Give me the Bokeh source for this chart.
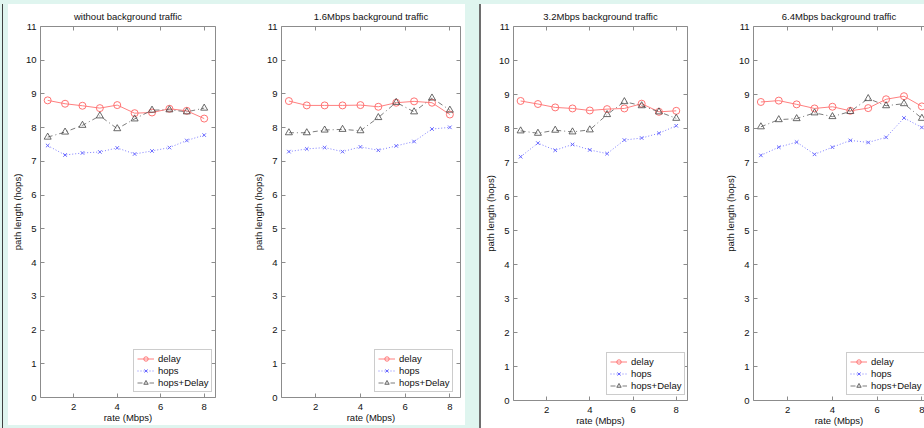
from bokeh.plotting import figure
from bokeh.models import LinearAxis, FixedTicker, Range1d, Legend, LegendItem, Div
from bokeh.layouts import row, column
from bokeh.embed import file_html
from bokeh.resources import INLINE

# ---- data ----
rates = [0.8, 1.6, 2.4, 3.2, 4.0, 4.8, 5.6, 6.4, 7.2, 8.0]
titles = ["without background traffic", "1.6Mbps background traffic",
          "3.2Mbps background traffic", "6.4Mbps background traffic"]
series_names = ["delay", "hops", "hops+Delay"]

delay_p1 = [8.81, 8.71, 8.65, 8.58, 8.67, 8.43, 8.45, 8.56, 8.50, 8.27]
hops_p1 = [7.47, 7.19, 7.25, 7.28, 7.40, 7.22, 7.31, 7.41, 7.62, 7.78]
hd_p1 = [7.72, 7.87, 8.07, 8.35, 7.97, 8.26, 8.52, 8.53, 8.47, 8.58]

delay_p2 = [8.79, 8.66, 8.66, 8.66, 8.67, 8.62, 8.74, 8.78, 8.74, 8.39]
hops_p2 = [7.29, 7.37, 7.41, 7.29, 7.43, 7.33, 7.46, 7.59, 7.96, 8.01]
hd_p2 = [7.85, 7.85, 7.93, 7.95, 7.91, 8.30, 8.75, 8.47, 8.88, 8.52]

delay_p3 = [8.81, 8.72, 8.62, 8.59, 8.53, 8.57, 8.59, 8.73, 8.49, 8.52]
hops_p3 = [7.17, 7.57, 7.36, 7.53, 7.37, 7.26, 7.66, 7.72, 7.86, 8.08]
hd_p3 = [7.93, 7.86, 7.95, 7.90, 7.96, 8.41, 8.79, 8.67, 8.49, 8.30]

delay_p4 = [8.78, 8.82, 8.71, 8.59, 8.64, 8.52, 8.60, 8.86, 8.95, 8.65]
hops_p4 = [7.21, 7.45, 7.60, 7.24, 7.45, 7.65, 7.59, 7.74, 8.31, 8.03]
hd_p4 = [8.05, 8.26, 8.29, 8.46, 8.35, 8.50, 8.88, 8.67, 8.73, 8.30]

y_ticks = list(range(12))
x_ticks = [2, 4, 6, 8]

# ---- style ----
FONT = "Liberation Sans"
AX = "#8c8c8c"
MINT = "#dff5ef"
X0 = 0.47
UNITS_PER_PX = 8.05 / 180.0


def style_axis(ax, ticks, labels=True, label_standoff=4, axis_label_standoff=0):
    ax.ticker = FixedTicker(ticks=ticks)
    ax.axis_line_color = AX
    ax.axis_line_width = 1
    ax.major_tick_line_color = AX
    ax.major_tick_in = 4
    ax.major_tick_out = 0
    ax.minor_tick_line_color = None
    ax.major_label_text_font = FONT
    ax.major_label_text_font_size = "9.5px"
    ax.major_label_text_color = "#111111"
    ax.major_label_standoff = label_standoff
    ax.axis_label_text_font = FONT
    ax.axis_label_text_font_size = "9.5px"
    ax.axis_label_text_font_style = "normal"
    ax.axis_label_text_color = "#111111"
    ax.axis_label_standoff = axis_label_standoff
    if not labels:
        ax.major_label_text_font_size = "0px"
        ax.major_label_text_alpha = 0
        ax.major_label_standoff = 0


def make_panel(title, delay, hops, hd, width, height, left, frame_w, top, bottom,
               right_axis=True):
    x_end = X0 + frame_w * UNITS_PER_PX
    right = width - left - frame_w
    p = figure(width=width, height=height, x_range=Range1d(X0, x_end), y_range=Range1d(0, 11),
               output_backend="svg", toolbar_location=None,
               min_border_left=left, min_border_right=right,
               min_border_top=top, min_border_bottom=bottom,
               x_axis_label="rate (Mbps)", y_axis_label="path length (hops)",
               title=title, margin=0)
    p.background_fill_color = "white"
    p.border_fill_color = "white"
    p.outline_line_color = None
    p.grid.visible = False
    p.title.text_font = FONT
    p.title.text_font_size = "9.5px"
    p.title.text_font_style = "normal"
    p.title.text_color = "#111111"
    p.title.align = "center"
    p.title.standoff = 9

    style_axis(p.xaxis[0], x_ticks, True, 6, -1)
    style_axis(p.yaxis[0], y_ticks, True, 4, 0)
    top_ax = LinearAxis()
    style_axis(top_ax, x_ticks, False)
    p.add_layout(top_ax, "above")
    if right_axis:
        rax = LinearAxis()
        style_axis(rax, y_ticks, False)
        p.add_layout(rax, "right")

    l1 = p.line(rates, delay, line_color="#ff8080", line_width=1)
    s1 = p.scatter(rates, delay, marker="circle", size=7, fill_color=None,
                   line_color="#ff7373", line_width=1)
    l2 = p.line(rates, hops, line_color="#7f7fff", line_width=1, line_dash="1 2")
    s2 = p.scatter(rates, hops, marker="x", size=5, line_color="#6a6aff", line_width=1)
    l3 = p.line(rates, hd, line_color="#5a5a5a", line_width=0.8, line_dash="5 3 1 3")
    s3 = p.scatter(rates, hd, marker="triangle", size=7, fill_color=None,
                   line_color="#444444", line_width=0.8)

    legend = Legend(items=[LegendItem(label=series_names[0], renderers=[l1, s1]),
                           LegendItem(label=series_names[1], renderers=[l2, s2]),
                           LegendItem(label=series_names[2], renderers=[l3, s3])],
                    location=(93, 5))
    legend.label_text_font = FONT
    legend.label_text_font_size = "9.5px"
    legend.label_text_color = "#111111"
    legend.border_line_color = "#999999"
    legend.border_line_width = 1
    legend.background_fill_color = "white"
    legend.background_fill_alpha = 1
    legend.glyph_width = 17
    legend.glyph_height = 11
    legend.label_height = 11
    legend.label_standoff = 4
    legend.spacing = 1
    legend.padding = 3
    legend.margin = 0
    p.add_layout(legend)
    return p


def strip(w, h, color):
    return Div(text="", width=w, height=h, margin=0, styles={"background-color": color})


f1 = make_panel(titles[0], delay_p1, hops_p1, hd_p1, 240, 421, 27, 180, 22, 27)
f2 = make_panel(titles[1], delay_p2, hops_p2, hd_p2, 217, 421, 33, 179, 22, 27)
f3 = make_panel(titles[2], delay_p3, hops_p3, hd_p3, 239, 424, 26, 180, 22, 28)
f4 = make_panel(titles[3], delay_p4, hops_p4, hd_p4, 204, 424, 33, 171, 22, 28,
                right_axis=False)

left_group = column(row(f1, f2, spacing=0, margin=0), strip(457, 3, MINT),
                    spacing=0, margin=0)
right_group = row(f3, f4, spacing=0, margin=0, styles={"background-color": "white"})

body = row(strip(2, 424, MINT), strip(1, 424, "#404040"), strip(5, 424, MINT),
           left_group, strip(14, 424, MINT), strip(2, 424, "#6e6e6e"), right_group,
           spacing=0, margin=0, styles={"background-color": "white"})

layout = column(strip(924, 4, MINT), body, spacing=0, margin=0)

open("out.html", "w").write(file_html(layout, INLINE))
